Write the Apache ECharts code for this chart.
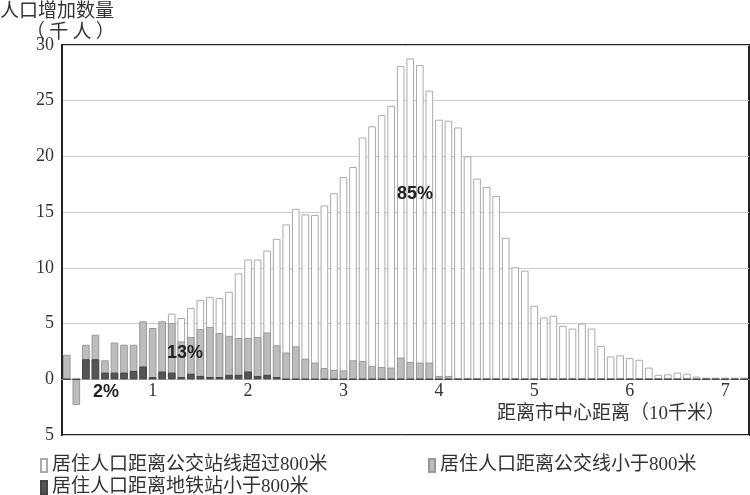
<!DOCTYPE html>
<html>
<head>
<meta charset="utf-8">
<script src="https://cdn.jsdelivr.net/npm/echarts@6/dist/echarts.min.js"></script>
<style>html,body{margin:0;padding:0;background:#fff;}#c{width:750px;height:495px;}</style>
</head>
<body>
<div id="c"></div>
<script>
// Distance bins (10 km units)
var categories = ['0.1','0.2','0.3','0.4','0.5','0.6','0.7','0.8','0.9','1.0',
  '1.1','1.2','1.3','1.4','1.5','1.6','1.7','1.8','1.9','2.0',
  '2.1','2.2','2.3','2.4','2.5','2.6','2.7','2.8','2.9','3.0',
  '3.1','3.2','3.3','3.4','3.5','3.6','3.7','3.8','3.9','4.0',
  '4.1','4.2','4.3','4.4','4.5','4.6','4.7','4.8','4.9','5.0',
  '5.1','5.2','5.3','5.4','5.5','5.6','5.7','5.8','5.9','6.0',
  '6.1','6.2','6.3','6.4','6.5','6.6','6.7','6.8','6.9','7.0',
  '7.1','7.2'];
// Over 800 m from bus stop/line
var over800 = [0,0,0,0,0,0,0,0,0,0,
  0,5.9,5.5,6.4,7.1,7.4,7.3,7.85,9.5,10.75,
  10.75,11.55,12.6,13.9,15.3,14.8,14.75,15.6,16.7,18.15,
  19.05,21.7,22.7,23.7,24.55,28.1,28.8,28.2,25.9,23.3,
  23.2,22.6,20.0,18.0,17.25,16.45,12.7,10.05,9.75,6.6,
  5.55,5.7,4.8,4.55,5.0,4.55,3.0,2.05,2.15,1.9,
  1.75,1.05,0.4,0.45,0.6,0.5,0.25,0.15,0.15,0.15,
  0.15,0.15];
// Under 800 m from bus line
var busUnder800 = [2.2,-2.3,3.1,4.0,1.7,3.3,3.1,3.1,5.2,4.6,
  5.2,5.05,3.4,3.8,4.5,4.7,4.15,3.9,3.7,3.7,
  3.8,4.2,3.05,2.4,2.95,1.85,1.5,1.0,0.85,0.8,
  1.7,1.65,1.2,1.1,1.05,1.95,1.55,1.5,1.5,0.3,
  0.3,0,0,0,0,0,0,0,0,0,
  0,0,0,0,0,0,0,0,0,0,
  0,0,0,0,0,0,0,0,0,0,
  0,0];
// Under 800 m from metro station
var metroUnder800 = [0,0,1.8,1.8,0.6,0.6,0.6,0.75,1.15,0.2,
  0.7,0.6,0.2,0.5,0.3,0.2,0.2,0.4,0.4,0.7,
  0.3,0.4,0.2,0,0,0,0,0,0,0,
  0,0,0,0,0,0,0,0,0,0,
  0,0,0,0,0,0,0,0,0,0,
  0,0,0,0,0,0,0,0,0,0,
  0,0,0,0,0,0,0,0,0,0,
  0,0];
var yTicks = {min: -5, max: 30, interval: 5};
var seriesNames = ['居住人口距离公交站线超过800米','居住人口距离公交线小于800米','居住人口距离地铁站小于800米'];

var serif = '"Liberation Serif","Noto Sans CJK SC",serif';
var gridTop = 45, gridBottom = 60, chartH = 495;
var plotH = chartH - gridTop - gridBottom;
var zeroOffset = plotH * (0 - yTicks.min) / (yTicks.max - yTicks.min);

function legendItem(name, left, top) {
  return {data: [name], orient: 'horizontal', left: left, top: top, icon: 'rect', itemWidth: 6, itemHeight: 13, padding: 0,
    textStyle: {fontFamily: serif, fontSize: 19, color: '#333'}};
}

var chart = echarts.init(document.getElementById('c'));
chart.setOption({
  animation: false,
  backgroundColor: '#fff',
  grid: {left: 62, right: 1, top: gridTop, bottom: gridBottom, show: true, borderColor: '#222', borderWidth: 2, backgroundColor: 'transparent'},
  xAxis: {
    type: 'category', data: categories,
    offset: -zeroOffset,
    axisLine: {onZero: false, lineStyle: {color: '#bbb', width: 1}},
    axisTick: {show: false},
    axisLabel: {
      interval: function (i) { return i % 10 === 9; },
      formatter: function (v) { return String(Number(v)); },
      fontFamily: serif, fontSize: 18, color: '#333', margin: 3
    }
  },
  yAxis: {
    type: 'value', min: yTicks.min, max: yTicks.max, interval: yTicks.interval,
    axisLine: {show: true, lineStyle: {color: '#222', width: 2}},
    axisTick: {show: false},
    splitLine: {lineStyle: {color: '#ccc', width: 1}},
    axisLabel: {formatter: function (v) { return String(Math.abs(v)); }, fontFamily: serif, fontSize: 18, color: '#333', margin: 8}
  },
  legend: [
    legendItem(seriesNames[0], 40, 456),
    legendItem(seriesNames[2], 40, 478),
    legendItem(seriesNames[1], 428, 456)
  ],
  series: [
    {name: seriesNames[0], type: 'bar', data: over800, barWidth: '80%', barGap: '-100%',
      itemStyle: {color: '#fff', borderColor: '#aaa', borderWidth: 1}},
    {name: seriesNames[1], type: 'bar', data: busUnder800, barWidth: '80%', barGap: '-100%',
      itemStyle: {color: '#bdbdbd', borderColor: '#999', borderWidth: 1}},
    {name: seriesNames[2], type: 'bar', data: metroUnder800, barWidth: '80%', barGap: '-100%',
      itemStyle: {color: '#555', borderColor: '#444', borderWidth: 1}}
  ],
  graphic: [
    {type: 'text', z: 100, left: 0, top: 0, style: {text: '人口增加数量', font: '19px "Noto Sans CJK SC"', fill: '#333'}},
    {type: 'text', z: 100, left: 26, top: 21, style: {text: '（ 千 人 ）', font: '19px "Noto Sans CJK SC"', fill: '#333'}},
    {type: 'text', z: 100, left: 497, top: 405, style: {text: '距离市中心距离（10千米）', font: '19px "Liberation Serif","Noto Sans CJK SC"', fill: '#333'}},
    {type: 'text', z: 100, left: 93, top: 383, style: {text: '2%', font: 'bold 18px "Liberation Sans"', fill: '#222'}},
    {type: 'text', z: 100, left: 167, top: 344, style: {text: '13%', font: 'bold 18px "Liberation Sans"', fill: '#222'}},
    {type: 'text', z: 100, left: 397, top: 185, style: {text: '85%', font: 'bold 18px "Liberation Sans"', fill: '#222'}}
  ]
});
</script>
</body>
</html>
